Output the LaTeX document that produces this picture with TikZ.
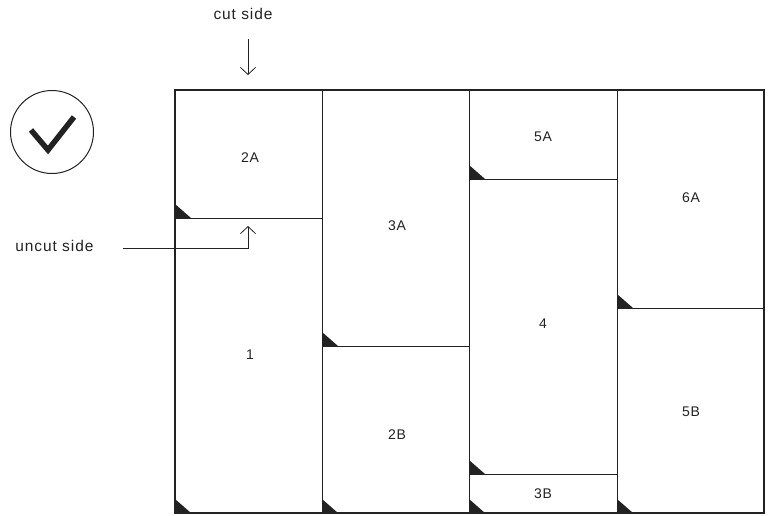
\documentclass[tikz,border=0pt]{standalone}
\usepackage{fontspec}
\setmainfont{Liberation Sans}[LetterSpace=6]
\usetikzlibrary{arrows.meta,positioning,calc}
\definecolor{inkgray}{RGB}{34,34,34}

\begin{document}
\begin{tikzpicture}[x=1pt,y=-1pt,
    piece/.style={draw=inkgray, line width=1pt},
    corner/.style={fill=inkgray},
    lbl/.style={font=\fontsize{14}{16}\selectfont, text=inkgray},
    note/.style={font=\fontsize{15.5}{18}\selectfont, text=inkgray},
    pointer/.style={draw=inkgray, line width=0.8pt, -{Straight Barb[length=7pt,width=15pt]}}]
    \useasboundingbox (0,0) rectangle (770,515);

    % pieces (left/top/right/bottom) with their corner marks
    \foreach \l/\t/\r/\b in {175/90/322/218, 175/218/322/513, 322/90/469/346,
        322/346/469/513, 469/90/617/179, 469/179/617/474, 469/474/617/513,
        617/90/764/308, 617/308/764/513}{
        \draw[piece] (\l,\t) rectangle (\r,\b);
        \fill[corner] (\l,\b) -- (\l+16,\b) -- (\l,\b-14) -- cycle;
    }
    \draw[piece, line width=1.3pt] (175,90) rectangle (764,513);

    \node[lbl] (n2A) at (250,158) {2A};
    \node[lbl] (n1) at (250,355) {1};
    \node[lbl] (n3A) at (397,226) {3A};
    \node[lbl] (n2B) at (397,435) {2B};
    \node[lbl] (n5A) at (543,137) {5A};
    \node[lbl] (n4) at (543,324) {4};
    \node[lbl] (n3B) at (543,494) {3B};
    \node[lbl] (n6A) at (691,198) {6A};
    \node[lbl] (n5B) at (691,412) {5B};

    % check mark
    \node[circle, draw=inkgray, line width=1pt, minimum size=83pt] (ok) at (52,132) {};
    \draw[inkgray, line width=5.5pt, line join=miter]
        ($(ok.center)+(-21,-2)$) -- ++(17,20) -- ++(26,-33);

    % cut side
    \node[note] (cut) at (243,14) {cut side};
    \coordinate (cutfrom) at (248,39);
    \coordinate (cutto) at (248,75);
    \draw[pointer] (cutfrom) -- (cutto);

    % uncut side
    \node[note, anchor=east] (uncut) at (97,246) {uncut side};
    \coordinate (uncutfrom) at (123,248);
    \coordinate (uncutto) at (248,226);
    \draw[pointer] (uncutfrom) -| (uncutto);
\end{tikzpicture}
\end{document}
